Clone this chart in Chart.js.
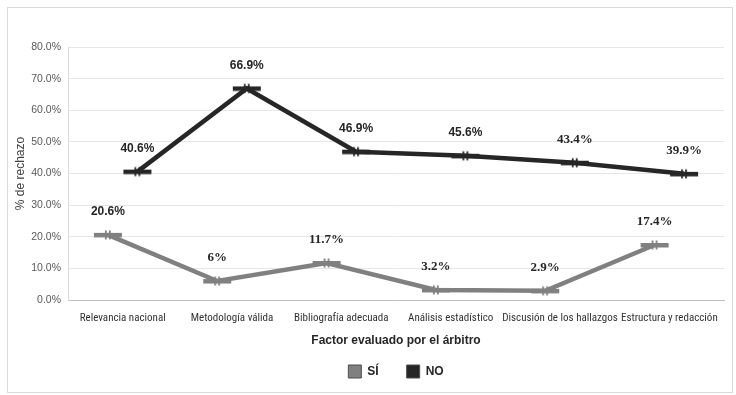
<!DOCTYPE html>
<html>
<head>
<meta charset="utf-8">
<script src="https://cdn.jsdelivr.net/npm/chart.js@4.4.1/dist/chart.umd.min.js"></script>
<style>
  html, body { margin: 0; padding: 0; background: #fff; }
</style>
</head>
<body>
<canvas id="grafico" width="736" height="395"></canvas>
<script>
const factores = ['Relevancia nacional', 'Metodología válida', 'Bibliografía adecuada',
  'Análisis estadístico', 'Discusión de los hallazgos', 'Estructura y redacción'];
const rechazoSi = [20.6, 6, 11.7, 3.2, 2.9, 17.4];
const rechazoNo = [40.6, 66.9, 46.9, 45.6, 43.4, 39.9];
const yTicks = [0, 10, 20, 30, 40, 50, 60, 70, 80];

const colorSi = '#808080';
const colorNo = '#262626';
const desplazamiento = 0.135; // each series sits a bit off the category centre

// dash marker with a small "#" in the middle
function marcador(color) {
  const c = document.createElement('canvas');
  c.width = 30; c.height = 12;
  const g = c.getContext('2d');
  g.fillStyle = color;
  g.fillRect(1, 4, 28, 4.5);
  g.fillRect(12, 1.5, 1.8, 9);
  g.fillRect(16, 1.5, 1.8, 9);
  return c;
}

// labels drawn by hand, a few are in a serif face like the original
const sansIdx = [[0], [0, 1, 2, 3]];
const etiquetas = {
  id: 'etiquetas',
  afterDatasetsDraw(chart) {
    const ctx = chart.ctx;
    ctx.save();
    ctx.textAlign = 'center';
    ctx.textBaseline = 'middle';
    ctx.fillStyle = '#262626';
    chart.data.datasets.forEach((ds, di) => {
      chart.getDatasetMeta(di).data.forEach((pt, i) => {
        ctx.font = sansIdx[di].includes(i)
          ? 'bold 12px "Liberation Sans", Arial, sans-serif'
          : 'bold 13px "Liberation Serif", "Times New Roman", serif';
        ctx.fillText(ds.data[i].y + '%', pt.x, pt.y - 23);
      });
    });
    ctx.restore();
  }
};

const marco = {
  id: 'marco',
  beforeDraw(chart) {
    const ctx = chart.ctx;
    ctx.save();
    ctx.fillStyle = '#fff';
    ctx.fillRect(0, 0, chart.width, chart.height);
    ctx.strokeStyle = '#d9d9d9';
    ctx.lineWidth = 1;
    ctx.strokeRect(7.5, 7.5, 725, 385);
    ctx.restore();
  }
};

const ctx = document.getElementById('grafico').getContext('2d');
const myChart = new Chart(ctx, {
  type: 'line',
  data: {
    datasets: [{
      label: 'SÍ',
      data: rechazoSi.map((v, i) => ({ x: i - desplazamiento, y: v })),
      borderColor: colorSi,
      backgroundColor: colorSi,
      borderWidth: 4.5,
      pointStyle: marcador(colorSi),
      tension: 0
    },
    {
      label: 'NO',
      data: rechazoNo.map((v, i) => ({ x: i + desplazamiento, y: v })),
      borderColor: colorNo,
      backgroundColor: colorNo,
      borderWidth: 4.5,
      pointStyle: marcador(colorNo),
      tension: 0
    }]
  },
  options: {
    responsive: false,
    animation: false,
    events: [],
    layout: { padding: { top: 47, right: 12, bottom: 7, left: 0 } },
    plugins: {
      tooltip: { enabled: false },
      legend: {
        position: 'bottom',
        fullSize: false,
        labels: {
          boxWidth: 13,
          boxHeight: 13,
          padding: 28,
          color: '#262626',
          font: { family: '"Liberation Sans", Arial, sans-serif', size: 12, weight: 'bold' },
          generateLabels(chart) {
            return Chart.defaults.plugins.legend.labels.generateLabels(chart).map(it => {
              it.lineWidth = 1;
              it.strokeStyle = '#4d4d4d';
              return it;
            });
          }
        }
      }
    },
    scales: {
      x: {
        type: 'linear',
        min: -0.5,
        max: factores.length - 0.5,
        afterFit(scale) { scale.height = 37; },
        afterBuildTicks(scale) { scale.ticks = factores.map((f, i) => ({ value: i })); },
        ticks: {
          padding: 12,
          maxRotation: 0,
          autoSkip: false,
          color: '#333333',
          font: { family: '"Liberation Sans Narrow", "Roboto Condensed", Roboto, sans-serif', size: 11 },
          callback: (v) => factores[v]
        },
        grid: { display: false, drawTicks: false },
        border: { color: '#bfbfbf', width: 1 },
        title: {
          display: true,
          text: 'Factor evaluado por el árbitro',
          color: '#262626',
          font: { family: '"Liberation Sans", Arial, sans-serif', size: 12, weight: 'bold' },
          padding: { top: 0, bottom: -11 }
        }
      },
      y: {
        min: 0,
        max: 80,
        afterFit(scale) { scale.width = 68; },
        afterBuildTicks(scale) { scale.ticks = yTicks.map(v => ({ value: v })); },
        ticks: {
          padding: 7,
          color: '#595959',
          font: { family: '"Liberation Sans", Arial, sans-serif', size: 10.5 },
          callback: (v) => v.toFixed(1) + '%'
        },
        grid: { color: '#e6e6e6', drawTicks: false },
        border: { color: '#d9d9d9' },
        title: {
          display: true,
          text: '% de rechazo',
          color: '#404040',
          font: { family: '"Liberation Sans", Arial, sans-serif', size: 12 },
          padding: { top: 13, bottom: 0 }
        }
      }
    }
  },
  plugins: [marco, etiquetas]
});
</script>
</body>
</html>
